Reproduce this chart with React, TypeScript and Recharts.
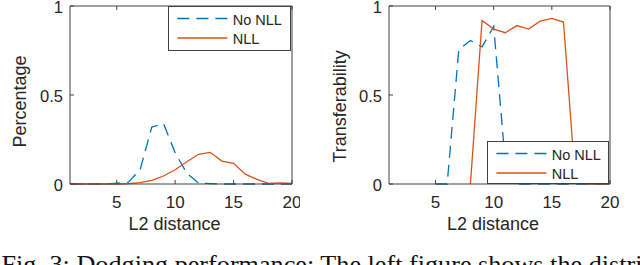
import React from 'react';
import { LineChart, Line, XAxis, YAxis, Legend, Label } from 'recharts';

// L2 distance bins (x axis)
const distance = [1, 2, 3, 4, 5, 6, 7, 8, 9, 10, 11, 12, 13, 14, 15, 16, 17, 18, 19, 20];

// left panel: percentage of samples
const leftNoNll = [0, 0, 0, 0, 0.005, 0.01, 0.08, 0.32, 0.34, 0.175, 0.06, 0.005, 0.002, 0, 0, 0, 0, 0, 0, 0];
const leftNll = [0, 0, 0, 0, 0, 0.002, 0.008, 0.02, 0.045, 0.08, 0.125, 0.167, 0.178, 0.129, 0.116, 0.055, 0.026, 0.003, 0.006, 0.003];

// right panel: transferability
const rightNoNll = [null, null, null, null, 0, 0, 0.755, 0.806, 0.77, 0.885, 0.12, 0, 0, 0, 0, 0, 0, 0, 0, 0];
const rightNll = [null, null, null, null, null, null, null, 0, 0.919, 0.87, 0.85, 0.89, 0.87, 0.915, 0.93, 0.91, 0.04, 0, 0, 0];

const xTicks = [5, 10, 15, 20];
const yTicks = [0, 0.5, 1];
const seriesNames = ['No NLL', 'NLL'];
const xLabel = 'L2 distance';
const caption = 'Fig. 3: Dodging performance: The left figure shows the distribution of the L2 distance';

const BLUE = '#0072BD';
const ORANGE = '#D95319';
const AXIS = '#404040';
const TEXT = '#262626';
const FONT = '"Liberation Sans", Arial, sans-serif';
const DASH = '12 7';
const TICK_LEN = 4;

const toRows = (a: (number | null)[], b: (number | null)[]) =>
  distance.map((d, i) => ({ d, noNll: a[i], nll: b[i] }));

const BottomTick = (props: any) => {
  const { x, y, payload } = props;
  return (
    <g>
      <line x1={x} x2={x} y1={y} y2={y - TICK_LEN} stroke={AXIS} />
      <text x={x} y={y + 24} textAnchor="middle" fontSize={17} fill={TEXT} fontFamily={FONT}>
        {payload.value}
      </text>
    </g>
  );
};

const TopTick = (props: any) => {
  const { x, y } = props;
  return <line x1={x} x2={x} y1={y} y2={y + TICK_LEN} stroke={AXIS} />;
};

const LeftTick = (props: any) => {
  const { x, y, payload } = props;
  return (
    <g>
      <line x1={x} x2={x + TICK_LEN} y1={y} y2={y} stroke={AXIS} />
      <text x={x - 7} y={y + 6.8} textAnchor="end" fontSize={16.5} fill={TEXT} fontFamily={FONT}>
        {payload.value}
      </text>
    </g>
  );
};

const RightTick = (props: any) => {
  const { x, y } = props;
  return <line x1={x} x2={x - TICK_LEN} y1={y} y2={y} stroke={AXIS} />;
};

const LegendBox = ({ w, h }: { w: number; h: number }) => (
  <svg width={w - 2} height={h - 2} style={{ display: 'block' }}>
    {seriesNames.map((name, i) => {
      const y = 11.5 + i * 19.5;
      return (
        <g key={name}>
          <line
            x1={8.4}
            x2={58.4}
            y1={y}
            y2={y}
            stroke={i === 0 ? BLUE : ORANGE}
            strokeWidth={1.3}
            strokeDasharray={i === 0 ? DASH : undefined}
          />
          <text x={63.7} y={y + 6} fontSize={14.5} fill={TEXT} fontFamily={FONT}>
            {name}
          </text>
        </g>
      );
    })}
  </svg>
);

interface PanelProps {
  rows: any[];
  yLabel: string;
  yAxisWidth: number;
  rightMargin: number;
  yLabelShift: number;
  legend: { left: number; top: number; width: number; height: number };
}

const Panel = ({ rows, yLabel, yAxisWidth, rightMargin, yLabelShift, legend }: PanelProps) => (
  <LineChart width={300} height={245} data={rows} margin={{ top: 0, right: rightMargin, left: 0, bottom: 0 }}>
    <XAxis
      dataKey="d"
      type="number"
      domain={[1, 20]}
      ticks={xTicks}
      interval={0}
      height={61}
      tickSize={0}
      tickMargin={0}
      tickLine={false}
      axisLine={{ stroke: AXIS }}
      tick={<BottomTick />}
    >
      <Label
        content={(p: any) => {
          const vb = p.viewBox;
          return (
            <text x={vb.x + vb.width / 2 - 6.5} y={vb.y + 46} textAnchor="middle" fontSize={18} fill={TEXT} fontFamily={FONT}>
              {xLabel}
            </text>
          );
        }}
      />
    </XAxis>
    <XAxis
      xAxisId="top"
      orientation="top"
      dataKey="d"
      type="number"
      domain={[1, 20]}
      ticks={xTicks}
      interval={0}
      height={6}
      tickSize={0}
      tickMargin={0}
      tickLine={false}
      axisLine={{ stroke: AXIS }}
      tick={<TopTick />}
    />
    <YAxis
      type="number"
      domain={[0, 1]}
      ticks={yTicks}
      interval={0}
      width={yAxisWidth}
      tickSize={0}
      tickMargin={0}
      tickLine={false}
      axisLine={{ stroke: AXIS }}
      tick={<LeftTick />}
    >
      <Label
        content={(p: any) => {
          const vb = p.viewBox;
          const cx = 26;
          const cy = vb.y + vb.height / 2 + yLabelShift;
          return (
            <text x={cx} y={cy} transform={`rotate(-90 ${cx} ${cy})`} textAnchor="middle" fontSize={18} fill={TEXT} fontFamily={FONT}>
              {yLabel}
            </text>
          );
        }}
      />
    </YAxis>
    <YAxis
      yAxisId="r"
      orientation="right"
      type="number"
      domain={[0, 1]}
      ticks={yTicks}
      interval={0}
      width={8}
      tickSize={0}
      tickMargin={0}
      tickLine={false}
      axisLine={{ stroke: AXIS }}
      tick={<RightTick />}
    />
    <Line
      dataKey="noNll"
      name={seriesNames[0]}
      stroke={BLUE}
      strokeWidth={1.3}
      strokeDasharray={DASH}
      dot={false}
      activeDot={false}
      isAnimationActive={false}
    />
    <Line
      dataKey="nll"
      name={seriesNames[1]}
      stroke={ORANGE}
      strokeWidth={1.3}
      dot={false}
      activeDot={false}
      isAnimationActive={false}
    />
    <Legend
      layout="vertical"
      align="center"
      verticalAlign="middle"
      wrapperStyle={{
        left: legend.left,
        top: legend.top,
        width: legend.width,
        height: legend.height,
        background: '#fff',
        border: `1px solid ${AXIS}`,
        boxSizing: 'border-box',
        lineHeight: 0,
      }}
      content={() => <LegendBox w={legend.width} h={legend.height} />}
    />
  </LineChart>
);

export default function App() {
  return (
    <div
      style={{
        position: 'absolute',
        left: 0,
        top: 0,
        width: 640,
        height: 265,
        overflow: 'hidden',
        background: '#fff',
      }}
    >
      <div style={{ position: 'absolute', left: 0, top: 0 }}>
        <Panel
          rows={toRows(leftNoNll, leftNll)}
          yLabel="Percentage"
          yAxisWidth={70}
          rightMargin={0}
          yLabelShift={6.5}
          legend={{ left: 168, top: 6, width: 123, height: 45 }}
        />
      </div>
      <div style={{ position: 'absolute', left: 320, top: 0 }}>
        <Panel
          rows={toRows(rightNoNll, rightNll)}
          yLabel="Transferability"
          yAxisWidth={69}
          rightMargin={2}
          yLabelShift={11.5}
          legend={{ left: 167, top: 141, width: 122, height: 43 }}
        />
      </div>
      <div
        style={{
          position: 'absolute',
          left: 1.5,
          top: 252,
          fontFamily: '"Liberation Serif", "Times New Roman", serif',
          fontSize: 26.2,
          lineHeight: '26px',
          whiteSpace: 'nowrap',
          color: '#111',
        }}
      >
        {caption}
      </div>
    </div>
  );
}
